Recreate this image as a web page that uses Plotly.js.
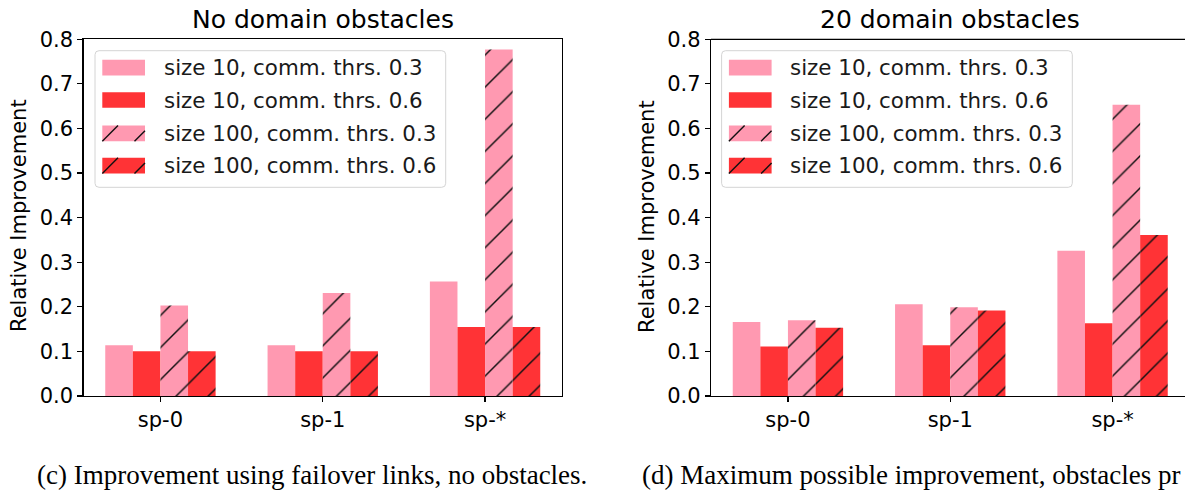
<!DOCTYPE html>
<html><head><meta charset="utf-8">
<script src="https://cdn.plot.ly/plotly-3.0.1.min.js"></script>
<style>html,body{margin:0;padding:0;background:#fff}</style>
</head><body><div id="chart" style="width:1185px;height:493px"></div>
<script>
// ---- data ----
const categories = ['sp-0', 'sp-1', 'sp-*'];
const seriesNames = ['size 10, comm. thrs. 0.3', 'size 10, comm. thrs. 0.6', 'size 100, comm. thrs. 0.3', 'size 100, comm. thrs. 0.6'];
const panelTitles = ['No domain obstacles', '20 domain obstacles'];
const yAxisTitle = 'Relative Improvement';
const captions = ['(c) Improvement using failover links, no obstacles.', '(d) Maximum possible improvement, obstacles pr'];
const yTickValues = [0.0, 0.1, 0.2, 0.3, 0.4, 0.5, 0.6, 0.7, 0.8];

// panel (c): no domain obstacles
const noObs_size10_thr03 = [0.114, 0.114, 0.257];
const noObs_size10_thr06 = [0.1005, 0.1005, 0.155];
const noObs_size100_thr03 = [0.203, 0.231, 0.777];
const noObs_size100_thr06 = [0.1005, 0.1005, 0.155];

// panel (d): 20 domain obstacles
const obs20_size10_thr03 = [0.166, 0.206, 0.326];
const obs20_size10_thr06 = [0.111, 0.114, 0.163];
const obs20_size100_thr03 = [0.170, 0.199, 0.653];
const obs20_size100_thr06 = [0.153, 0.192, 0.361];

// ---- style ----
const W = 1185, H = 493;
const px = v => v / W, py = v => 1 - v / H;
const PINK = '#ff99b1', RED = '#ff3336';
const seriesColors = [PINK, RED, PINK, RED];
const seriesHatched = [false, false, true, true];
const FONT = 'DejaVu Sans';
const plotTop = 39.3, plotBot = 396;
const leftX0 = 83.5, leftX1 = 562, rightX0 = 711;
const unit = (leftX1 - leftX0) / 2.948;
const xMin = -0.474;

const panels = [
  [noObs_size10_thr03, noObs_size10_thr06, noObs_size100_thr03, noObs_size100_thr06],
  [obs20_size10_thr03, obs20_size10_thr06, obs20_size100_thr03, obs20_size100_thr06]
];

const traces = [];
panels.forEach((series, p) => {
  series.forEach((vals, i) => {
    const c = seriesColors[i];
    traces.push({
      type: 'bar', x: categories, y: vals, name: seriesNames[i],
      xaxis: p ? 'x2' : 'x', yaxis: p ? 'y2' : 'y',
      showlegend: false, hoverinfo: 'skip',
      marker: {
        color: c, line: {width: 0},
        pattern: seriesHatched[i]
          ? {shape: '/', size: 22.7, solidity: 0.065, fgcolor: '#111', bgcolor: c, fgopacity: 1}
          : {shape: ''}
      }
    });
  });
});

const axisCommon = {
  showline: true, linecolor: '#000', linewidth: 1.2,
  ticks: 'outside', ticklen: 5, tickwidth: 1.2, tickcolor: '#000',
  tickfont: {family: FONT, size: 21, color: '#000'},
  showgrid: false, zeroline: false, fixedrange: true
};
const xCommon = Object.assign({}, axisCommon, {type: 'category', categoryorder: 'array', categoryarray: categories});
const yCommon = Object.assign({}, axisCommon, {range: [0, 0.8], tickvals: yTickValues, ticktext: yTickValues.map(v => v.toFixed(1))});
const yDomain = [py(plotBot), py(plotTop)];

const layout = {
  width: W, height: H, autosize: false,
  margin: {l: 0, r: 0, t: 0, b: 0, pad: 0},
  paper_bgcolor: '#fff', plot_bgcolor: '#fff',
  barmode: 'group', bargap: 0.32, bargroupgap: 0,
  showlegend: false,
  xaxis: Object.assign({}, xCommon, {domain: [px(leftX0), px(leftX1)], range: [xMin, -xMin + 2], mirror: true, anchor: 'y'}),
  yaxis: Object.assign({}, yCommon, {domain: yDomain, mirror: true, anchor: 'x'}),
  xaxis2: Object.assign({}, xCommon, {domain: [px(rightX0), 1], range: [xMin, xMin + (W - rightX0) / unit], anchor: 'y2'}),
  yaxis2: Object.assign({}, yCommon, {domain: yDomain, anchor: 'x2'}),
  shapes: [], annotations: []
};

// top spine of the right panel (its right spine lies outside the picture)
layout.shapes.push({type: 'line', xref: 'x2 domain', yref: 'y2 domain', x0: 0, x1: 1, y0: 1, y1: 1, line: {color: '#000', width: 1.2}});

// titles, axis titles, captions
const plotCentersX = [(leftX0 + leftX1) / 2, (rightX0 + rightX0 + (leftX1 - leftX0)) / 2];
const yTitleX = [19, 647];
[0, 1].forEach(p => {
  layout.annotations.push({text: panelTitles[p], xref: 'paper', yref: 'paper', x: px(plotCentersX[p]), y: py(36), xanchor: 'center', yanchor: 'bottom', showarrow: false, font: {family: FONT, size: 25, color: '#000'}});
  layout.annotations.push({text: yAxisTitle, xref: 'paper', yref: 'paper', x: px(yTitleX[p]), y: py(216), xanchor: 'center', yanchor: 'middle', textangle: -90, showarrow: false, font: {family: FONT, size: 21, color: '#000'}});
});
layout.annotations.push({text: captions[0], xref: 'paper', yref: 'paper', x: px(312), y: py(475), xanchor: 'center', yanchor: 'middle', showarrow: false, font: {family: 'Liberation Serif', size: 27, color: '#000'}});
layout.annotations.push({text: captions[1], xref: 'paper', yref: 'paper', x: px(640), y: py(475), xanchor: 'left', yanchor: 'middle', showarrow: false, font: {family: 'Liberation Serif', size: 27, color: '#000'}});

// legends (matplotlib style boxes)
function roundedRect(x0, y0, x1, y1, r) {
  const X = v => px(v), Y = v => py(v);
  return 'M' + X(x0 + r) + ',' + Y(y0) + ' L' + X(x1 - r) + ',' + Y(y0) +
    ' Q' + X(x1) + ',' + Y(y0) + ' ' + X(x1) + ',' + Y(y0 + r) +
    ' L' + X(x1) + ',' + Y(y1 - r) +
    ' Q' + X(x1) + ',' + Y(y1) + ' ' + X(x1 - r) + ',' + Y(y1) +
    ' L' + X(x0 + r) + ',' + Y(y1) +
    ' Q' + X(x0) + ',' + Y(y1) + ' ' + X(x0) + ',' + Y(y1 - r) +
    ' L' + X(x0) + ',' + Y(y0 + r) +
    ' Q' + X(x0) + ',' + Y(y0) + ' ' + X(x0 + r) + ',' + Y(y0) + ' Z';
}
const legendBoxX = [95, 721.6];
const legendBoxW = 350.7, legendTop = 50.7, legendBot = 187.3;
const rowCenters = [67.7, 100, 133.3, 165.7];
const patchW = 42.7, patchH = 15.7, hatchStep = 32.2;
legendBoxX.forEach(bx => {
  layout.shapes.push({type: 'path', xref: 'paper', yref: 'paper', path: roundedRect(bx, legendTop, bx + legendBoxW, legendBot, 4),
    fillcolor: 'rgba(255,255,255,0.8)', line: {color: '#d4d4d4', width: 1}});
  seriesNames.forEach((name, i) => {
    const l = bx + 7.3, r = l + patchW, t = rowCenters[i] - patchH / 2, b = t + patchH;
    layout.shapes.push({type: 'rect', xref: 'paper', yref: 'paper', x0: px(l), x1: px(r), y0: py(b), y1: py(t), fillcolor: seriesColors[i], line: {width: 0}});
    if (seriesHatched[i]) {
      for (let d = 0; d < patchW; d += hatchStep) {
        const xs = Math.max(0, d), xe = Math.min(patchW, d + patchH);
        if (xe <= xs) continue;
        layout.shapes.push({type: 'line', xref: 'paper', yref: 'paper',
          x0: px(l + xs), y0: py(b - (xs - d)), x1: px(l + xe), y1: py(b - (xe - d)),
          line: {color: '#111', width: 1.4}});
      }
    }
    layout.annotations.push({text: name, xref: 'paper', yref: 'paper', x: px(bx + 66.5), y: py(rowCenters[i]), xanchor: 'left', yanchor: 'middle', showarrow: false, font: {family: FONT, size: 21.4, color: '#1a1a1a'}});
  });
});

Plotly.newPlot('chart', traces, layout, {displayModeBar: false, staticPlot: true});
</script></body></html>
